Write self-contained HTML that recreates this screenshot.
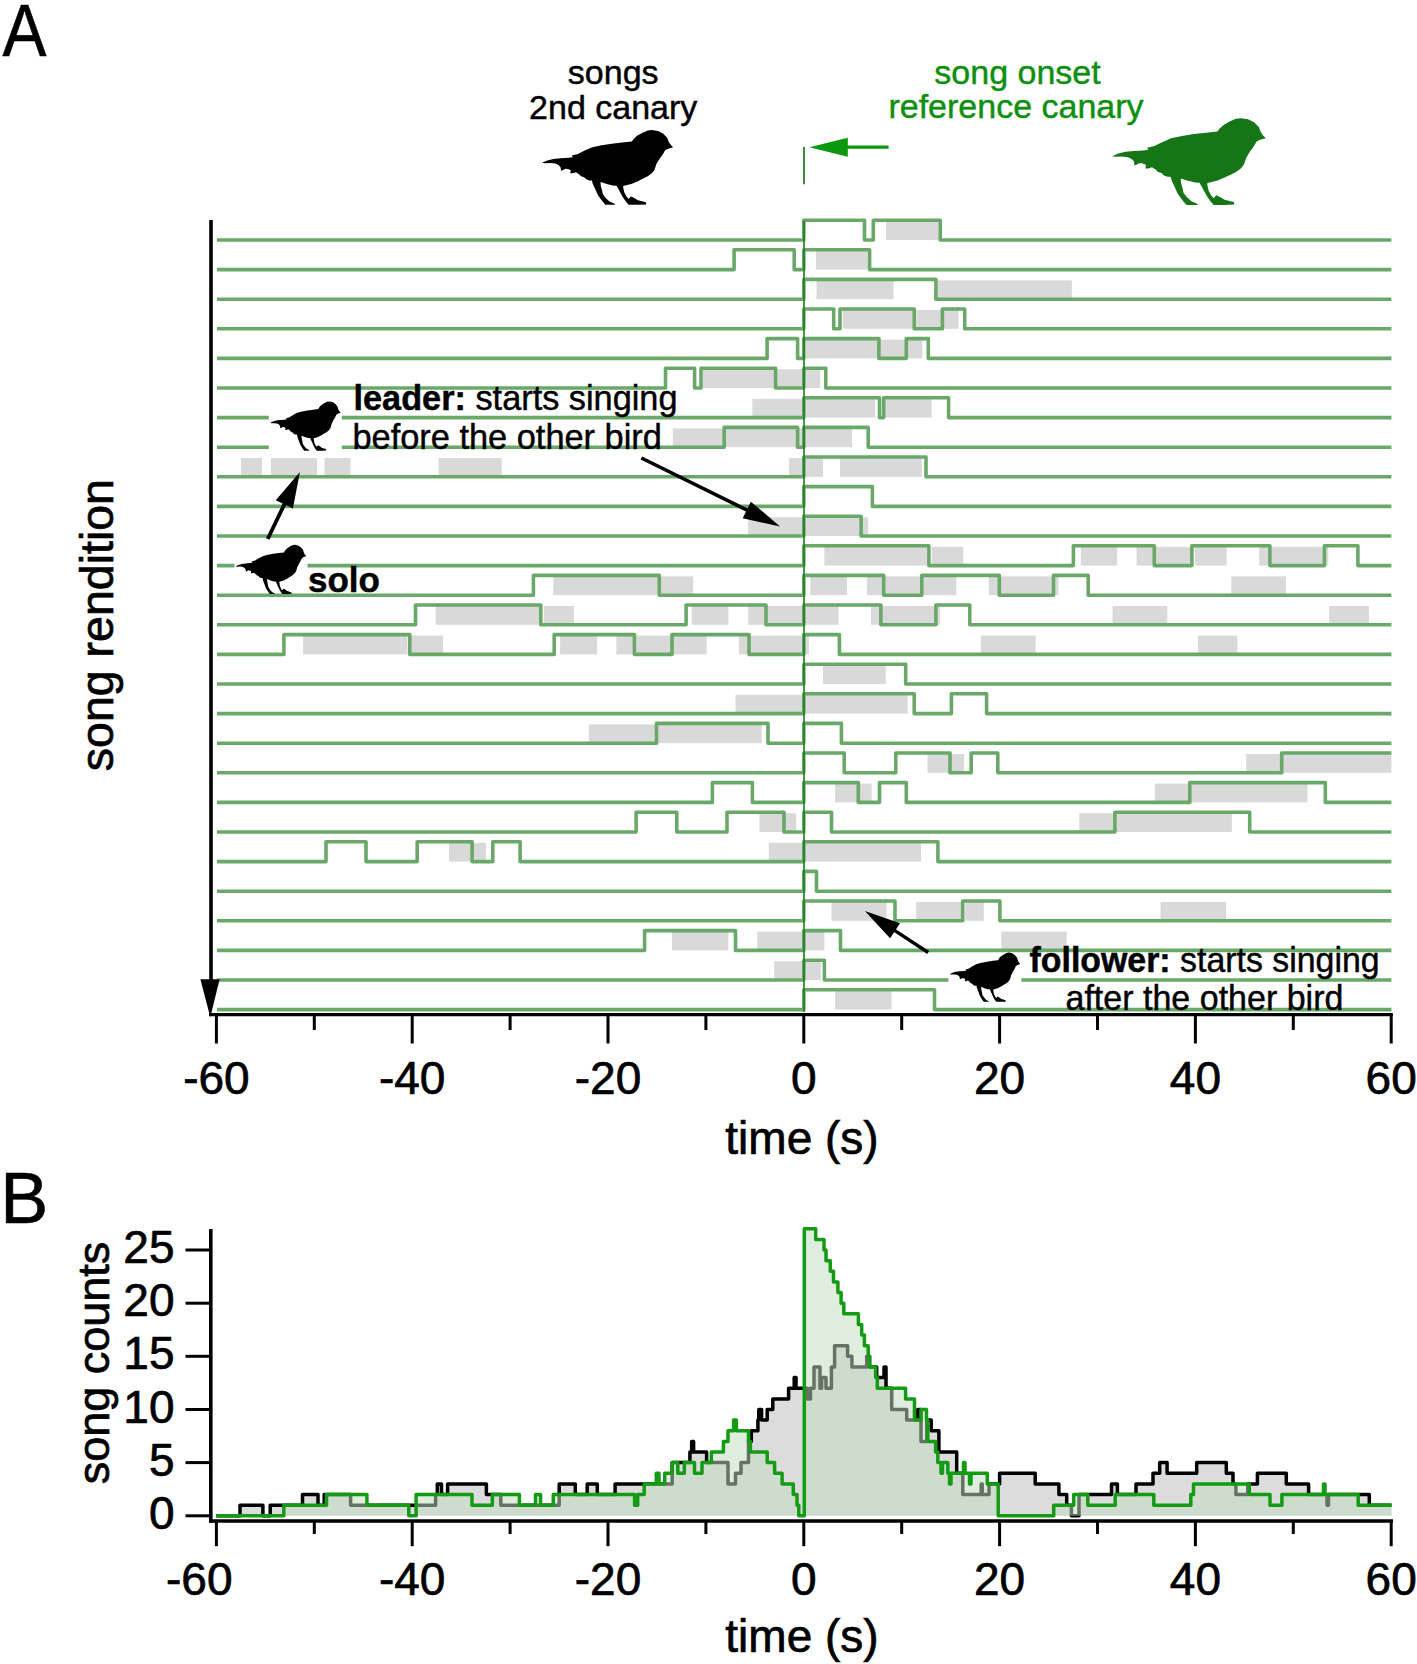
<!DOCTYPE html>
<html><head><meta charset="utf-8"><title>Figure</title>
<style>
html,body{margin:0;padding:0;background:#fff;}
body{width:1417px;height:1664px;overflow:hidden;}
svg{display:block;font-family:"Liberation Sans",sans-serif;}
</style></head>
<body>
<svg width="1417" height="1664" viewBox="0 0 1417 1664">
<defs><path id="bird" d="M0.0 442.9 L40.6 411.7 L87.5 391.3 L142.2 380.4 L204.7 375.0 L235.9 366.8 L228.1 343.8 L275.0 323.4 L321.9 282.6 L384.4 235.1 L454.7 207.9 L532.8 187.5 L610.9 171.2 L685.2 157.6 L700.8 119.6 L728.1 78.8 L767.2 40.8 L806.2 10.9 L837.5 4.1 L884.4 17.7 L923.4 51.6 L954.7 106.0 L966.4 160.3 L978.1 194.3 L1000.0 235.1 L962.5 252.7 L939.1 275.8 L923.4 323.4 L896.1 391.3 L872.7 459.2 L857.0 540.8 L837.5 581.5 L806.2 622.3 L767.2 656.2 L728.1 690.2 L681.2 724.2 L634.4 744.6 L618.8 751.4 L620.3 774.5 L628.1 839.7 L646.1 896.7 L661.7 923.9 L677.3 891.3 L693.0 900.8 L716.4 923.9 L732.0 941.6 L763.3 955.2 L792.2 968.8 L795.3 997.3 L728.1 1001.4 L661.7 1001.4 L640.6 962.0 L617.2 900.8 L595.3 832.9 L578.1 774.5 L568.0 747.3 L540.6 744.6 L493.8 724.2 L446.9 697.0 L448.4 744.6 L458.6 812.5 L464.1 860.1 L485.9 910.3 L515.6 959.2 L546.9 982.3 L560.2 1001.4 L484.4 1001.4 L464.1 962.0 L440.6 907.6 L425.0 866.8 L407.8 798.9 L388.3 724.2 L380.5 676.6 L360.9 676.6 L337.5 663.0 L321.9 635.9 L298.4 622.3 L282.8 595.1 L259.4 567.9 L235.9 581.5 L216.4 581.5 L220.3 540.8 L204.7 527.2 L181.2 520.4 L157.8 540.8 L146.1 547.6 L142.2 500.0 L126.6 472.8 L103.1 452.4 L64.1 445.7 L25.0 448.4 Z"/></defs>
<rect x="0" y="0" width="1417" height="1664" fill="#fff"/>
<rect x="886.0" y="221.2" width="52.2" height="18.8" fill="#d9d9d9"/>
<rect x="816.0" y="250.8" width="51.6" height="18.8" fill="#d9d9d9"/>
<rect x="816.5" y="280.4" width="77.1" height="18.8" fill="#d9d9d9"/>
<rect x="937.3" y="280.4" width="134.6" height="18.8" fill="#d9d9d9"/>
<rect x="842.8" y="310.0" width="70.0" height="18.8" fill="#d9d9d9"/>
<rect x="916.2" y="310.0" width="42.3" height="18.8" fill="#d9d9d9"/>
<rect x="806.0" y="339.6" width="116.4" height="18.8" fill="#d9d9d9"/>
<rect x="703.0" y="369.2" width="117.2" height="18.8" fill="#d9d9d9"/>
<rect x="752.4" y="398.8" width="122.8" height="18.8" fill="#d9d9d9"/>
<rect x="885.1" y="398.8" width="46.6" height="18.8" fill="#d9d9d9"/>
<rect x="672.8" y="428.4" width="179.2" height="18.8" fill="#d9d9d9"/>
<rect x="241.0" y="458.0" width="21.0" height="18.8" fill="#d9d9d9"/>
<rect x="271.0" y="458.0" width="46.0" height="18.8" fill="#d9d9d9"/>
<rect x="324.5" y="458.0" width="26.1" height="18.8" fill="#d9d9d9"/>
<rect x="438.6" y="458.0" width="63.1" height="18.8" fill="#d9d9d9"/>
<rect x="789.1" y="458.0" width="33.9" height="18.8" fill="#d9d9d9"/>
<rect x="840.0" y="458.0" width="81.8" height="18.8" fill="#d9d9d9"/>
<rect x="748.2" y="517.2" width="120.0" height="18.8" fill="#d9d9d9"/>
<rect x="824.4" y="546.8" width="103.1" height="18.8" fill="#d9d9d9"/>
<rect x="931.7" y="546.8" width="31.6" height="18.8" fill="#d9d9d9"/>
<rect x="1080.8" y="546.8" width="36.4" height="18.8" fill="#d9d9d9"/>
<rect x="1136.5" y="546.8" width="54.5" height="18.8" fill="#d9d9d9"/>
<rect x="1194.9" y="546.8" width="31.7" height="18.8" fill="#d9d9d9"/>
<rect x="1259.2" y="546.8" width="69.1" height="18.8" fill="#d9d9d9"/>
<rect x="553.3" y="576.4" width="139.9" height="18.8" fill="#d9d9d9"/>
<rect x="810.3" y="576.4" width="36.7" height="18.8" fill="#d9d9d9"/>
<rect x="866.8" y="576.4" width="15.5" height="18.8" fill="#d9d9d9"/>
<rect x="885.1" y="576.4" width="35.3" height="18.8" fill="#d9d9d9"/>
<rect x="923.2" y="576.4" width="33.1" height="18.8" fill="#d9d9d9"/>
<rect x="988.9" y="576.4" width="69.6" height="18.8" fill="#d9d9d9"/>
<rect x="1231.3" y="576.4" width="54.6" height="18.8" fill="#d9d9d9"/>
<rect x="435.6" y="606.0" width="103.8" height="18.8" fill="#d9d9d9"/>
<rect x="543.8" y="606.0" width="30.2" height="18.8" fill="#d9d9d9"/>
<rect x="691.7" y="606.0" width="36.7" height="18.8" fill="#d9d9d9"/>
<rect x="748.2" y="606.0" width="90.3" height="18.8" fill="#d9d9d9"/>
<rect x="871.0" y="606.0" width="69.2" height="18.8" fill="#d9d9d9"/>
<rect x="1112.5" y="606.0" width="54.8" height="18.8" fill="#d9d9d9"/>
<rect x="1329.1" y="606.0" width="39.8" height="18.8" fill="#d9d9d9"/>
<rect x="303.1" y="635.6" width="104.4" height="18.8" fill="#d9d9d9"/>
<rect x="410.4" y="635.6" width="32.6" height="18.8" fill="#d9d9d9"/>
<rect x="560.1" y="635.6" width="37.1" height="18.8" fill="#d9d9d9"/>
<rect x="616.4" y="635.6" width="17.5" height="18.8" fill="#d9d9d9"/>
<rect x="635.3" y="635.6" width="71.4" height="18.8" fill="#d9d9d9"/>
<rect x="738.9" y="635.6" width="70.0" height="18.8" fill="#d9d9d9"/>
<rect x="980.9" y="635.6" width="54.8" height="18.8" fill="#d9d9d9"/>
<rect x="1197.8" y="635.6" width="39.5" height="18.8" fill="#d9d9d9"/>
<rect x="823.0" y="665.2" width="62.7" height="18.8" fill="#d9d9d9"/>
<rect x="735.5" y="694.8" width="172.2" height="18.8" fill="#d9d9d9"/>
<rect x="588.9" y="724.4" width="172.6" height="18.8" fill="#d9d9d9"/>
<rect x="927.5" y="754.0" width="36.6" height="18.8" fill="#d9d9d9"/>
<rect x="1246.2" y="754.0" width="145.2" height="18.8" fill="#d9d9d9"/>
<rect x="835.1" y="783.6" width="36.5" height="18.8" fill="#d9d9d9"/>
<rect x="1154.9" y="783.6" width="152.6" height="18.8" fill="#d9d9d9"/>
<rect x="759.5" y="813.2" width="36.7" height="18.8" fill="#d9d9d9"/>
<rect x="1079.3" y="813.2" width="152.6" height="18.8" fill="#d9d9d9"/>
<rect x="449.0" y="842.8" width="37.0" height="18.8" fill="#d9d9d9"/>
<rect x="768.8" y="842.8" width="152.2" height="18.8" fill="#d9d9d9"/>
<rect x="831.5" y="902.0" width="55.0" height="18.8" fill="#d9d9d9"/>
<rect x="916.2" y="902.0" width="45.7" height="18.8" fill="#d9d9d9"/>
<rect x="965.2" y="902.0" width="18.6" height="18.8" fill="#d9d9d9"/>
<rect x="1160.5" y="902.0" width="65.6" height="18.8" fill="#d9d9d9"/>
<rect x="672.0" y="931.6" width="56.4" height="18.8" fill="#d9d9d9"/>
<rect x="757.2" y="931.6" width="67.2" height="18.8" fill="#d9d9d9"/>
<rect x="1001.3" y="931.6" width="65.3" height="18.8" fill="#d9d9d9"/>
<rect x="774.2" y="961.2" width="46.6" height="18.8" fill="#d9d9d9"/>
<rect x="835.1" y="990.8" width="56.5" height="18.8" fill="#d9d9d9"/>
<path d="M217.0 240.0 H803.8 V220.2 H864.5 V240.0 H873.3 V220.2 H940.2 V240.0 H1391.4" fill="none" stroke="#6aa86a" stroke-width="3.6" stroke-linejoin="round"/>
<path d="M217.0 269.6 H734.1 V249.8 H794.2 V269.6 H803.8 V249.8 H869.6 V269.6 H1391.4" fill="none" stroke="#6aa86a" stroke-width="3.6" stroke-linejoin="round"/>
<path d="M217.0 299.2 H803.8 V279.4 H935.9 V299.2 H1391.4" fill="none" stroke="#6aa86a" stroke-width="3.6" stroke-linejoin="round"/>
<path d="M217.0 328.8 H803.8 V309.0 H833.7 V328.8 H840.0 V309.0 H914.2 V328.8 H942.4 V309.0 H964.7 V328.8 H1391.4" fill="none" stroke="#6aa86a" stroke-width="3.6" stroke-linejoin="round"/>
<path d="M217.0 358.4 H767.1 V338.6 H797.6 V358.4 H803.8 V338.6 H878.9 V358.4 H906.3 V338.6 H928.3 V358.4 H1391.4" fill="none" stroke="#6aa86a" stroke-width="3.6" stroke-linejoin="round"/>
<path d="M217.0 388.0 H665.5 V368.2 H694.6 V388.0 H701.0 V368.2 H775.6 V388.0 H803.8 V368.2 H825.8 V388.0 H1391.4" fill="none" stroke="#6aa86a" stroke-width="3.6" stroke-linejoin="round"/>
<path d="M217.0 417.6 H803.8 V397.8 H879.5 V417.6 H883.7 V397.8 H948.6 V417.6 H1391.4" fill="none" stroke="#6aa86a" stroke-width="3.6" stroke-linejoin="round"/>
<path d="M217.0 447.2 H724.2 V427.4 H797.6 V447.2 H803.8 V427.4 H868.2 V447.2 H1391.4" fill="none" stroke="#6aa86a" stroke-width="3.6" stroke-linejoin="round"/>
<path d="M217.0 476.8 H803.8 V457.0 H926.0 V476.8 H1391.4" fill="none" stroke="#6aa86a" stroke-width="3.6" stroke-linejoin="round"/>
<path d="M217.0 506.4 H803.8 V486.6 H872.4 V506.4 H1391.4" fill="none" stroke="#6aa86a" stroke-width="3.6" stroke-linejoin="round"/>
<path d="M217.0 536.0 H803.8 V516.2 H861.1 V536.0 H1391.4" fill="none" stroke="#6aa86a" stroke-width="3.6" stroke-linejoin="round"/>
<path d="M217.0 565.6 H803.8 V545.8 H928.9 V565.6 H1073.4 V545.8 H1154.3 V565.6 H1191.9 V545.8 H1269.9 V565.6 H1324.4 V545.8 H1357.9 V565.6 H1391.4" fill="none" stroke="#6aa86a" stroke-width="3.6" stroke-linejoin="round"/>
<path d="M217.0 595.2 H533.4 V575.4 H659.3 V595.2 H803.8 V575.4 H883.7 V595.2 H921.8 V575.4 H999.3 V595.2 H1053.5 V575.4 H1088.2 V595.2 H1391.4" fill="none" stroke="#6aa86a" stroke-width="3.6" stroke-linejoin="round"/>
<path d="M217.0 624.8 H415.5 V605.0 H540.8 V624.8 H686.1 V605.0 H766.0 V624.8 H803.8 V605.0 H880.9 V624.8 H935.9 V605.0 H969.8 V624.8 H1391.4" fill="none" stroke="#6aa86a" stroke-width="3.6" stroke-linejoin="round"/>
<path d="M217.0 654.4 H283.9 V634.6 H409.8 V654.4 H554.2 V634.6 H634.4 V654.4 H672.0 V634.6 H749.0 V654.4 H803.8 V634.6 H839.4 V654.4 H1391.4" fill="none" stroke="#6aa86a" stroke-width="3.6" stroke-linejoin="round"/>
<path d="M217.0 684.0 H803.8 V664.2 H905.7 V684.0 H1391.4" fill="none" stroke="#6aa86a" stroke-width="3.6" stroke-linejoin="round"/>
<path d="M217.0 713.6 H803.8 V693.8 H914.2 V713.6 H951.4 V693.8 H986.6 V713.6 H1391.4" fill="none" stroke="#6aa86a" stroke-width="3.6" stroke-linejoin="round"/>
<path d="M217.0 743.2 H656.5 V723.4 H768.0 V743.2 H803.8 V723.4 H841.4 V743.2 H1391.4" fill="none" stroke="#6aa86a" stroke-width="3.6" stroke-linejoin="round"/>
<path d="M217.0 772.8 H803.8 V753.0 H844.2 V772.8 H895.8 V753.0 H950.0 V772.8 H971.2 V753.0 H997.8 V772.8 H1281.7 V753.0 H1391.4" fill="none" stroke="#6aa86a" stroke-width="3.6" stroke-linejoin="round"/>
<path d="M217.0 802.4 H712.4 V782.6 H752.4 V802.4 H803.8 V782.6 H858.3 V802.4 H879.5 V782.6 H906.3 V802.4 H1189.8 V782.6 H1325.3 V802.4 H1391.4" fill="none" stroke="#6aa86a" stroke-width="3.6" stroke-linejoin="round"/>
<path d="M217.0 832.0 H636.1 V812.2 H676.8 V832.0 H727.0 V812.2 H784.0 V832.0 H803.8 V812.2 H831.5 V832.0 H1114.9 V812.2 H1249.7 V832.0 H1391.4" fill="none" stroke="#6aa86a" stroke-width="3.6" stroke-linejoin="round"/>
<path d="M217.0 861.6 H326.0 V841.8 H366.0 V861.6 H417.2 V841.8 H472.1 V861.6 H492.8 V841.8 H520.1 V861.6 H803.8 V841.8 H937.9 V861.6 H1391.4" fill="none" stroke="#6aa86a" stroke-width="3.6" stroke-linejoin="round"/>
<path d="M217.0 891.2 H803.8 V871.4 H816.5 V891.2 H1391.4" fill="none" stroke="#6aa86a" stroke-width="3.6" stroke-linejoin="round"/>
<path d="M217.0 920.8 H803.8 V901.0 H895.0 V920.8 H962.7 V901.0 H999.9 V920.8 H1391.4" fill="none" stroke="#6aa86a" stroke-width="3.6" stroke-linejoin="round"/>
<path d="M217.0 950.4 H644.6 V930.6 H735.5 V950.4 H803.8 V930.6 H840.5 V950.4 H1391.4" fill="none" stroke="#6aa86a" stroke-width="3.6" stroke-linejoin="round"/>
<path d="M217.0 980.0 H803.8 V960.2 H824.4 V980.0 H1391.4" fill="none" stroke="#6aa86a" stroke-width="3.6" stroke-linejoin="round"/>
<path d="M217.0 1009.6 H803.8 V989.8 H934.5 V1009.6 H1391.4" fill="none" stroke="#6aa86a" stroke-width="3.6" stroke-linejoin="round"/>
<line x1="804" y1="221" x2="804" y2="1012" stroke="#1c7a1c" stroke-width="1.6"/>
<rect x="268.8" y="396" width="73" height="56" fill="#fff"/><use href="#bird" fill="#000" transform="translate(270.0 401.2) scale(0.07060 0.04940)"/>
<rect x="234.5" y="541" width="73" height="50" fill="#fff"/><use href="#bird" fill="#000" transform="translate(235.6 544.6) scale(0.07060 0.04940)"/>
<rect x="948.4" y="953.6" width="73" height="49" fill="#fff"/><use href="#bird" fill="#000" transform="translate(949.6 952.4) scale(0.07060 0.04940)"/>
<use href="#bird" fill="#000" transform="translate(541.9 129.7) scale(0.13120 0.07490)"/>
<use href="#bird" fill="#167516" transform="translate(1112.1 117.8) scale(0.15370 0.08700)"/>
<line x1="845" y1="147.2" x2="888.6" y2="147.2" stroke="#0c980c" stroke-width="3.2"/>
<polygon points="809.4,147.2 847.8,137.8 847.8,156.8" fill="#0c980c"/>
<line x1="804" y1="147.1" x2="804" y2="184.3" stroke="#1f6f1f" stroke-width="1.7"/>
<line x1="211" y1="220" x2="211" y2="985" stroke="#000" stroke-width="3.6"/>
<polygon points="200.4,979.2 219.6,979.2 210.3,1017.2" fill="#000"/>
<line x1="209" y1="1014.6" x2="1392.8" y2="1014.6" stroke="#000" stroke-width="3.2"/>
<line x1="216.4" y1="1014" x2="216.4" y2="1043.5" stroke="#000" stroke-width="3"/>
<text x="216.4" y="1093.5" font-size="46" text-anchor="middle" fill="#000" stroke="#000" stroke-width="0.7" font-weight="normal" >-60</text>
<line x1="314.3" y1="1014" x2="314.3" y2="1030" stroke="#000" stroke-width="3"/>
<line x1="412.2" y1="1014" x2="412.2" y2="1043.5" stroke="#000" stroke-width="3"/>
<text x="412.2" y="1093.5" font-size="46" text-anchor="middle" fill="#000" stroke="#000" stroke-width="0.7" font-weight="normal" >-40</text>
<line x1="510.1" y1="1014" x2="510.1" y2="1030" stroke="#000" stroke-width="3"/>
<line x1="608.0" y1="1014" x2="608.0" y2="1043.5" stroke="#000" stroke-width="3"/>
<text x="608.0" y="1093.5" font-size="46" text-anchor="middle" fill="#000" stroke="#000" stroke-width="0.7" font-weight="normal" >-20</text>
<line x1="705.9" y1="1014" x2="705.9" y2="1030" stroke="#000" stroke-width="3"/>
<line x1="803.8" y1="1014" x2="803.8" y2="1043.5" stroke="#000" stroke-width="3"/>
<text x="803.8" y="1093.5" font-size="46" text-anchor="middle" fill="#000" stroke="#000" stroke-width="0.7" font-weight="normal" >0</text>
<line x1="901.7" y1="1014" x2="901.7" y2="1030" stroke="#000" stroke-width="3"/>
<line x1="999.6" y1="1014" x2="999.6" y2="1043.5" stroke="#000" stroke-width="3"/>
<text x="999.6" y="1093.5" font-size="46" text-anchor="middle" fill="#000" stroke="#000" stroke-width="0.7" font-weight="normal" >20</text>
<line x1="1097.5" y1="1014" x2="1097.5" y2="1030" stroke="#000" stroke-width="3"/>
<line x1="1195.4" y1="1014" x2="1195.4" y2="1043.5" stroke="#000" stroke-width="3"/>
<text x="1195.4" y="1093.5" font-size="46" text-anchor="middle" fill="#000" stroke="#000" stroke-width="0.7" font-weight="normal" >40</text>
<line x1="1293.3" y1="1014" x2="1293.3" y2="1030" stroke="#000" stroke-width="3"/>
<line x1="1391.2" y1="1014" x2="1391.2" y2="1043.5" stroke="#000" stroke-width="3"/>
<text x="1391.2" y="1093.5" font-size="46" text-anchor="middle" fill="#000" stroke="#000" stroke-width="0.7" font-weight="normal" >60</text>
<text x="802" y="1153.6" font-size="46" text-anchor="middle" fill="#000" stroke="#000" stroke-width="0.7" font-weight="normal" >time (s)</text>
<text x="0" y="0" font-size="46.5" stroke="#000" stroke-width="0.7" text-anchor="middle" transform="translate(112.8 625.1) rotate(-90)">song rendition</text>
<text x="2.5" y="55.9" font-size="74" text-anchor="start" fill="#000" stroke="#000" stroke-width="0.6" font-weight="normal" transform="translate(2.5 0) scale(0.89 1) translate(-2.5 0)" >A</text>
<text x="0.3" y="1222.9" font-size="72" text-anchor="start" fill="#000" stroke="#000" stroke-width="0.6" font-weight="normal" >B</text>
<text x="613.2" y="83.9" font-size="34" text-anchor="middle" fill="#000" stroke="#000" stroke-width="0.45" font-weight="normal" >songs</text>
<text x="613.2" y="118.9" font-size="34" text-anchor="middle" fill="#000" stroke="#000" stroke-width="0.45" font-weight="normal" >2nd canary</text>
<text x="1017.5" y="83.6" font-size="34" text-anchor="middle" fill="#0f8f0f" stroke="#0f8f0f" stroke-width="0.45" font-weight="normal" >song onset</text>
<text x="1016" y="118.2" font-size="34" text-anchor="middle" fill="#0f8f0f" stroke="#0f8f0f" stroke-width="0.45" font-weight="normal" >reference canary</text>
<text x="353.5" y="409.6" font-size="35" stroke="#000" stroke-width="0.45" transform="translate(353.5 0) scale(0.98 1) translate(-353.5 0)"><tspan font-weight="bold">leader:</tspan> starts singing</text>
<text x="352.5" y="449.1" font-size="35" text-anchor="start" fill="#000" stroke="#000" stroke-width="0.45" font-weight="normal" transform="translate(352.5 0) scale(0.982 1) translate(-352.5 0)" >before the other bird</text>
<text x="308" y="592.2" font-size="35" text-anchor="start" fill="#000" stroke="#000" stroke-width="0.45" font-weight="bold" >solo</text>
<text x="1029.5" y="971.8" font-size="35" stroke="#000" stroke-width="0.45" transform="translate(1029.5 0) scale(0.968 1) translate(-1029.5 0)"><tspan font-weight="bold">follower:</tspan> starts singing</text>
<text x="1065.5" y="1009.8" font-size="35" text-anchor="start" fill="#000" stroke="#000" stroke-width="0.45" font-weight="normal" transform="translate(1065.5 0) scale(0.972 1) translate(-1065.5 0)" >after the other bird</text>
<line x1="641.4" y1="458.0" x2="748.6" y2="510.9" stroke="#000" stroke-width="3.6"/><polygon points="780.0,526.4 742.7,518.3 750.9,501.7" fill="#000"/>
<line x1="267.7" y1="539.0" x2="285.2" y2="502.6" stroke="#000" stroke-width="3.8"/><polygon points="299.9,471.9 292.9,508.5 275.8,500.2" fill="#000"/>
<line x1="928.2" y1="952.5" x2="893.4" y2="929.7" stroke="#000" stroke-width="3.4"/><polygon points="864.9,911.1 900.0,923.3 890.1,938.3" fill="#000"/>
<path d="M216.3 1515.8 H240 V1505.2 H262.9 V1515.8 H270.2 V1505.2 H302.5 V1494.5 H318 V1505.2 H324.2 V1494.5 H350.6 V1505.2 H435.6 V1494.5 H437.3 V1483.9 H441.5 V1494.5 H447.6 V1483.9 H486.4 V1494.5 H500.8 V1505.2 H559.2 V1483.9 H575.3 V1494.5 H587.2 V1483.9 H597.3 V1494.5 H615.1 V1483.9 H672.2 V1462.6 H689.9 V1452.0 H691.7 V1441.4 H693.6 V1452.0 H706.6 V1462.6 H728 V1483.9 H735.5 V1473.3 H741 V1462.6 H748.5 V1441.4 H751.3 V1430.8 H757.9 V1420.1 H758.8 V1409.5 H761.6 V1420.1 H767.2 V1409.5 H772.8 V1398.9 H788.6 V1388.2 H794.2 V1377.6 H796 V1388.2 H807.5 V1398.9 H810.5 V1388.2 H814 V1367.0 H820 V1388.2 H821.6 V1377.6 H826 V1388.2 H831.4 V1367.0 H834.6 V1345.7 H847.6 V1356.3 H851.9 V1367.0 H866.7 V1356.3 H869.4 V1367.0 H876.7 V1377.6 H884 V1367.0 H886 V1388.2 H891.7 V1409.5 H906.7 V1420.1 H917.8 V1409.5 H921 V1441.4 H926.7 V1420.1 H931.2 V1430.8 H938.9 V1452.0 H956.7 V1473.3 H962.8 V1494.5 H981.2 V1483.9 H982.3 V1494.5 H989 V1483.9 H999.6 V1473.3 H1035.2 V1483.9 H1058.9 V1494.5 H1066.7 V1505.2 H1071.4 V1515.8 H1079 V1494.5 H1111.5 V1483.9 H1117.4 V1494.5 H1136 V1483.9 H1153 V1473.3 H1159.7 V1462.6 H1167.1 V1473.3 H1196.7 V1462.6 H1226.3 V1473.3 H1233 V1483.9 H1235.9 V1494.5 H1247.8 V1483.9 H1257.4 V1473.3 H1286.3 V1483.9 H1308.6 V1494.5 H1327 V1505.2 H1328.5 V1494.5 H1369.3 V1505.2 H1391.5 V1515.8 H216.3 Z" fill="#dcdcdc"/>
<path d="M216.3 1515.8 H240 V1505.2 H262.9 V1515.8 H270.2 V1505.2 H302.5 V1494.5 H318 V1505.2 H324.2 V1494.5 H350.6 V1505.2 H435.6 V1494.5 H437.3 V1483.9 H441.5 V1494.5 H447.6 V1483.9 H486.4 V1494.5 H500.8 V1505.2 H559.2 V1483.9 H575.3 V1494.5 H587.2 V1483.9 H597.3 V1494.5 H615.1 V1483.9 H672.2 V1462.6 H689.9 V1452.0 H691.7 V1441.4 H693.6 V1452.0 H706.6 V1462.6 H728 V1483.9 H735.5 V1473.3 H741 V1462.6 H748.5 V1441.4 H751.3 V1430.8 H757.9 V1420.1 H758.8 V1409.5 H761.6 V1420.1 H767.2 V1409.5 H772.8 V1398.9 H788.6 V1388.2 H794.2 V1377.6 H796 V1388.2 H807.5 V1398.9 H810.5 V1388.2 H814 V1367.0 H820 V1388.2 H821.6 V1377.6 H826 V1388.2 H831.4 V1367.0 H834.6 V1345.7 H847.6 V1356.3 H851.9 V1367.0 H866.7 V1356.3 H869.4 V1367.0 H876.7 V1377.6 H884 V1367.0 H886 V1388.2 H891.7 V1409.5 H906.7 V1420.1 H917.8 V1409.5 H921 V1441.4 H926.7 V1420.1 H931.2 V1430.8 H938.9 V1452.0 H956.7 V1473.3 H962.8 V1494.5 H981.2 V1483.9 H982.3 V1494.5 H989 V1483.9 H999.6 V1473.3 H1035.2 V1483.9 H1058.9 V1494.5 H1066.7 V1505.2 H1071.4 V1515.8 H1079 V1494.5 H1111.5 V1483.9 H1117.4 V1494.5 H1136 V1483.9 H1153 V1473.3 H1159.7 V1462.6 H1167.1 V1473.3 H1196.7 V1462.6 H1226.3 V1473.3 H1233 V1483.9 H1235.9 V1494.5 H1247.8 V1483.9 H1257.4 V1473.3 H1286.3 V1483.9 H1308.6 V1494.5 H1327 V1505.2 H1328.5 V1494.5 H1369.3 V1505.2 H1391.5" fill="none" stroke="#000" stroke-width="3.5" stroke-linejoin="round"/>
<path d="M216.3 1515.8 H283.8 V1505.2 H326.5 V1494.5 H366.9 V1505.2 H408.8 V1515.8 H416.1 V1494.5 H472 V1505.2 H492.3 V1494.5 H519.4 V1505.2 H535.5 V1494.5 H540.6 V1505.2 H553.3 V1494.5 H634.6 V1505.2 H637.7 V1494.5 H644.2 V1483.9 H656.3 V1473.3 H659 V1483.9 H664.7 V1473.3 H672.2 V1462.6 H677.8 V1473.3 H684.3 V1462.6 H694.5 V1473.3 H702 V1462.6 H711.3 V1452.0 H723.4 V1441.4 H728 V1430.8 H733.6 V1420.1 H736.4 V1430.8 H748.5 V1441.4 H750.4 V1452.0 H767.2 V1462.6 H774.6 V1473.3 H782.1 V1483.9 H793.3 V1494.5 H797 V1505.2 H798.8 V1515.8 H804.3 V1228.8 H815.7 V1239.4 H824 V1250.0 H826 V1260.7 H830.3 V1271.3 H833.5 V1281.9 H837.9 V1292.6 H841.1 V1303.2 H843.8 V1313.8 H858.4 V1324.5 H861.7 V1335.1 H864.4 V1345.7 H868.2 V1356.3 H869.8 V1367.0 H875.7 V1377.6 H877.3 V1388.2 H905.6 V1398.9 H914.5 V1420.1 H921 V1409.5 H926.5 V1420.1 H927.8 V1441.4 H935.6 V1452.0 H937.8 V1462.6 H941 V1473.3 H942.5 V1462.6 H947.8 V1473.3 H949.5 V1483.9 H951 V1473.3 H963.5 V1462.6 H965 V1473.3 H969.5 V1483.9 H971 V1473.3 H987.3 V1483.9 H998.2 V1515.8 H1053.7 V1505.2 H1073.7 V1494.5 H1087.8 V1505.2 H1115.2 V1494.5 H1153.8 V1505.2 H1190.8 V1494.5 H1193.5 V1483.9 H1249.3 V1494.5 H1270 V1505.2 H1281.9 V1494.5 H1323.5 V1483.9 H1325 V1494.5 H1358.2 V1505.2 H1391.5 V1515.8 H216.3 Z" fill="rgb(192,221,192)" fill-opacity="0.52"/>
<path d="M216.3 1515.8 H283.8 V1505.2 H326.5 V1494.5 H366.9 V1505.2 H408.8 V1515.8 H416.1 V1494.5 H472 V1505.2 H492.3 V1494.5 H519.4 V1505.2 H535.5 V1494.5 H540.6 V1505.2 H553.3 V1494.5 H634.6 V1505.2 H637.7 V1494.5 H644.2 V1483.9 H656.3 V1473.3 H659 V1483.9 H664.7 V1473.3 H672.2 V1462.6 H677.8 V1473.3 H684.3 V1462.6 H694.5 V1473.3 H702 V1462.6 H711.3 V1452.0 H723.4 V1441.4 H728 V1430.8 H733.6 V1420.1 H736.4 V1430.8 H748.5 V1441.4 H750.4 V1452.0 H767.2 V1462.6 H774.6 V1473.3 H782.1 V1483.9 H793.3 V1494.5 H797 V1505.2 H798.8 V1515.8 H804.3 V1228.8 H815.7 V1239.4 H824 V1250.0 H826 V1260.7 H830.3 V1271.3 H833.5 V1281.9 H837.9 V1292.6 H841.1 V1303.2 H843.8 V1313.8 H858.4 V1324.5 H861.7 V1335.1 H864.4 V1345.7 H868.2 V1356.3 H869.8 V1367.0 H875.7 V1377.6 H877.3 V1388.2 H905.6 V1398.9 H914.5 V1420.1 H921 V1409.5 H926.5 V1420.1 H927.8 V1441.4 H935.6 V1452.0 H937.8 V1462.6 H941 V1473.3 H942.5 V1462.6 H947.8 V1473.3 H949.5 V1483.9 H951 V1473.3 H963.5 V1462.6 H965 V1473.3 H969.5 V1483.9 H971 V1473.3 H987.3 V1483.9 H998.2 V1515.8 H1053.7 V1505.2 H1073.7 V1494.5 H1087.8 V1505.2 H1115.2 V1494.5 H1153.8 V1505.2 H1190.8 V1494.5 H1193.5 V1483.9 H1249.3 V1494.5 H1270 V1505.2 H1281.9 V1494.5 H1323.5 V1483.9 H1325 V1494.5 H1358.2 V1505.2 H1391.5" fill="none" stroke="#149a14" stroke-width="3.5" stroke-linejoin="round"/>
<line x1="210.8" y1="1229" x2="210.8" y2="1522.6" stroke="#000" stroke-width="3.6"/>
<line x1="209" y1="1521" x2="1393" y2="1521" stroke="#000" stroke-width="3.4"/>
<line x1="185.5" y1="1515.8" x2="211" y2="1515.8" stroke="#000" stroke-width="3"/>
<text x="174.5" y="1528.8" font-size="46" text-anchor="end" fill="#000" stroke="#000" stroke-width="0.7" font-weight="normal" >0</text>
<line x1="185.5" y1="1462.6" x2="211" y2="1462.6" stroke="#000" stroke-width="3"/>
<text x="174.5" y="1475.6" font-size="46" text-anchor="end" fill="#000" stroke="#000" stroke-width="0.7" font-weight="normal" >5</text>
<line x1="185.5" y1="1409.5" x2="211" y2="1409.5" stroke="#000" stroke-width="3"/>
<text x="174.5" y="1422.5" font-size="46" text-anchor="end" fill="#000" stroke="#000" stroke-width="0.7" font-weight="normal" >10</text>
<line x1="185.5" y1="1356.3" x2="211" y2="1356.3" stroke="#000" stroke-width="3"/>
<text x="174.5" y="1369.3" font-size="46" text-anchor="end" fill="#000" stroke="#000" stroke-width="0.7" font-weight="normal" >15</text>
<line x1="185.5" y1="1303.2" x2="211" y2="1303.2" stroke="#000" stroke-width="3"/>
<text x="174.5" y="1316.2" font-size="46" text-anchor="end" fill="#000" stroke="#000" stroke-width="0.7" font-weight="normal" >20</text>
<line x1="185.5" y1="1250.0" x2="211" y2="1250.0" stroke="#000" stroke-width="3"/>
<text x="174.5" y="1263.0" font-size="46" text-anchor="end" fill="#000" stroke="#000" stroke-width="0.7" font-weight="normal" >25</text>
<line x1="216.4" y1="1520" x2="216.4" y2="1546.2" stroke="#000" stroke-width="3"/>
<text x="199.3" y="1595" font-size="46" text-anchor="middle" fill="#000" stroke="#000" stroke-width="0.7" font-weight="normal" >-60</text>
<line x1="314.3" y1="1520" x2="314.3" y2="1534" stroke="#000" stroke-width="3"/>
<line x1="412.2" y1="1520" x2="412.2" y2="1546.2" stroke="#000" stroke-width="3"/>
<text x="412.2" y="1595" font-size="46" text-anchor="middle" fill="#000" stroke="#000" stroke-width="0.7" font-weight="normal" >-40</text>
<line x1="510.1" y1="1520" x2="510.1" y2="1534" stroke="#000" stroke-width="3"/>
<line x1="608.0" y1="1520" x2="608.0" y2="1546.2" stroke="#000" stroke-width="3"/>
<text x="608.0" y="1595" font-size="46" text-anchor="middle" fill="#000" stroke="#000" stroke-width="0.7" font-weight="normal" >-20</text>
<line x1="705.9" y1="1520" x2="705.9" y2="1534" stroke="#000" stroke-width="3"/>
<line x1="803.8" y1="1520" x2="803.8" y2="1546.2" stroke="#000" stroke-width="3"/>
<text x="803.8" y="1595" font-size="46" text-anchor="middle" fill="#000" stroke="#000" stroke-width="0.7" font-weight="normal" >0</text>
<line x1="901.7" y1="1520" x2="901.7" y2="1534" stroke="#000" stroke-width="3"/>
<line x1="999.6" y1="1520" x2="999.6" y2="1546.2" stroke="#000" stroke-width="3"/>
<text x="999.6" y="1595" font-size="46" text-anchor="middle" fill="#000" stroke="#000" stroke-width="0.7" font-weight="normal" >20</text>
<line x1="1097.5" y1="1520" x2="1097.5" y2="1534" stroke="#000" stroke-width="3"/>
<line x1="1195.4" y1="1520" x2="1195.4" y2="1546.2" stroke="#000" stroke-width="3"/>
<text x="1195.4" y="1595" font-size="46" text-anchor="middle" fill="#000" stroke="#000" stroke-width="0.7" font-weight="normal" >40</text>
<line x1="1293.3" y1="1520" x2="1293.3" y2="1534" stroke="#000" stroke-width="3"/>
<line x1="1391.2" y1="1520" x2="1391.2" y2="1546.2" stroke="#000" stroke-width="3"/>
<text x="1391.2" y="1595" font-size="46" text-anchor="middle" fill="#000" stroke="#000" stroke-width="0.7" font-weight="normal" >60</text>
<text x="802" y="1652.2" font-size="46" text-anchor="middle" fill="#000" stroke="#000" stroke-width="0.7" font-weight="normal" >time (s)</text>
<text x="0" y="0" font-size="45" stroke="#000" stroke-width="0.7" text-anchor="middle" transform="translate(109.4 1363) rotate(-90)">song counts</text>
</svg>
</body></html>
